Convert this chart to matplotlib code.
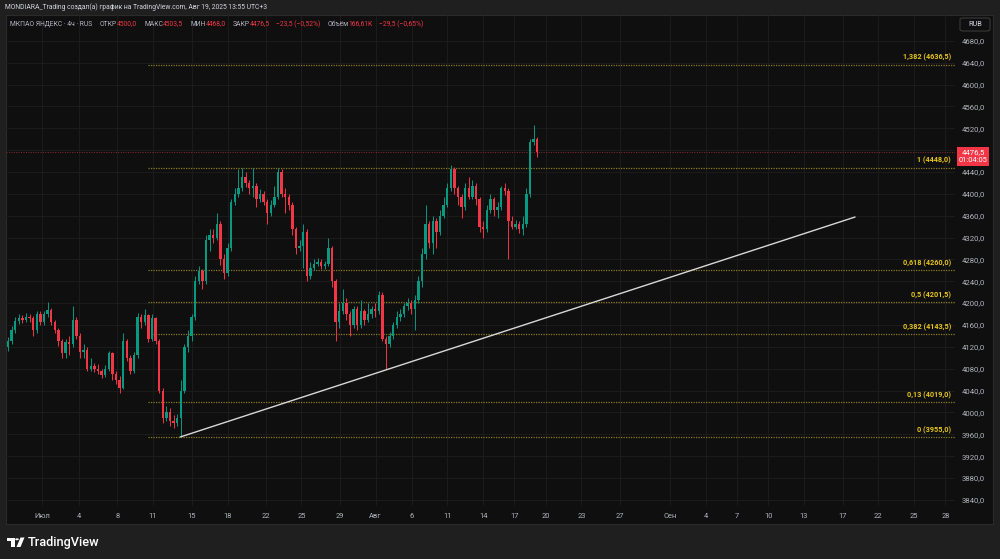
import matplotlib
matplotlib.use("Agg")
import matplotlib.pyplot as plt
from matplotlib.patches import Rectangle, FancyBboxPatch, Polygon, Circle

plt.rcParams['font.family'] = ['Roboto', 'DejaVu Sans']

# ---------------- data ----------------
opens = [4120, 4130, 4150, 4168, 4172, 4170, 4175, 4172, 4150, 4180,
         4165, 4180, 4188, 4165, 4150, 4130, 4108, 4128, 4125, 4170,
         4140, 4110, 4115, 4080, 4085, 4080, 4075, 4068, 4080, 4108,
         4070, 4060, 4045, 4130, 4100, 4075, 4105, 4175, 4165, 4178,
         4135, 4172, 4130, 4040, 3990, 4000, 3985, 3980, 3990, 4040,
         4120, 4140, 4175, 4240, 4258, 4240, 4315, 4325, 4320, 4345,
         4280, 4255, 4300, 4385, 4400, 4410, 4430, 4420, 4410, 4415,
         4390, 4400, 4385, 4365, 4380, 4395, 4440, 4400, 4395, 4380,
         4335, 4300, 4305, 4330, 4250, 4265, 4272, 4275, 4268, 4272,
         4300, 4240, 4165, 4185, 4200, 4180, 4160, 4190, 4160, 4185,
         4170, 4180, 4190, 4185, 4215, 4135, 4125, 4140, 4160, 4175,
         4180, 4195, 4200, 4190, 4205, 4240, 4290, 4345, 4310, 4350,
         4330, 4360, 4380, 4410, 4445, 4410, 4395, 4375, 4410, 4395,
         4415, 4390, 4340, 4335, 4370, 4390, 4370, 4375, 4410, 4405,
         4350, 4340, 4345, 4335, 4345, 4400, 4495, 4500]
closes = [4130, 4150, 4168, 4172, 4170, 4175, 4172, 4150, 4180, 4165,
          4180, 4188, 4165, 4150, 4130, 4108, 4128, 4125, 4170, 4140,
          4110, 4115, 4080, 4085, 4080, 4075, 4068, 4080, 4108, 4070,
          4060, 4045, 4130, 4100, 4075, 4105, 4175, 4165, 4178, 4135,
          4172, 4130, 4040, 3990, 4000, 3985, 3980, 3990, 4040, 4120,
          4140, 4175, 4240, 4258, 4240, 4315, 4325, 4320, 4345, 4280,
          4255, 4300, 4385, 4400, 4410, 4430, 4420, 4410, 4415, 4390,
          4400, 4385, 4365, 4380, 4395, 4440, 4400, 4395, 4380, 4335,
          4300, 4305, 4330, 4250, 4265, 4272, 4275, 4268, 4272, 4300,
          4240, 4165, 4185, 4200, 4180, 4160, 4190, 4160, 4185, 4170,
          4180, 4190, 4185, 4215, 4135, 4125, 4140, 4160, 4175, 4180,
          4195, 4200, 4190, 4205, 4240, 4290, 4345, 4310, 4350, 4330,
          4360, 4380, 4410, 4445, 4410, 4395, 4375, 4410, 4395, 4415,
          4390, 4340, 4335, 4370, 4390, 4370, 4375, 4410, 4405, 4350,
          4340, 4345, 4335, 4345, 4400, 4495, 4500, 4476.5]
highs = [4138, 4158, 4175, 4180, 4178, 4182, 4180, 4176, 4186, 4185,
         4186, 4202, 4192, 4170, 4155, 4135, 4135, 4140, 4195, 4175,
         4145, 4125, 4120, 4100, 4090, 4088, 4080, 4086, 4112, 4110,
         4075, 4066, 4145, 4135, 4105, 4110, 4182, 4180, 4190, 4180,
         4180, 4175, 4135, 4045, 4012, 4008, 3995, 3998, 4060, 4125,
         4150, 4180, 4250, 4268, 4262, 4325, 4335, 4335, 4365, 4350,
         4290, 4310, 4390, 4410, 4445, 4448, 4440, 4425, 4448, 4420,
         4408, 4405, 4390, 4388, 4415, 4448, 4445, 4410, 4400, 4385,
         4340, 4315, 4345, 4335, 4275, 4280, 4282, 4280, 4278, 4320,
         4305, 4245, 4200, 4225, 4210, 4185, 4195, 4195, 4205, 4190,
         4200, 4195, 4200, 4222, 4220, 4140, 4148, 4165, 4185, 4190,
         4200, 4210, 4205, 4215, 4250, 4300, 4380, 4350, 4360, 4355,
         4370, 4395, 4420, 4452, 4450, 4415, 4400, 4420, 4430, 4425,
         4420, 4395, 4350, 4380, 4400, 4395, 4385, 4415, 4420, 4410,
         4360, 4352, 4350, 4360, 4410, 4500, 4526, 4503.5]
lows = [4112, 4125, 4145, 4162, 4163, 4166, 4165, 4140, 4146, 4160,
        4160, 4175, 4160, 4145, 4122, 4100, 4100, 4105, 4120, 4135,
        4100, 4100, 4075, 4075, 4074, 4070, 4063, 4065, 4075, 4060,
        4052, 4035, 4042, 4095, 4070, 4072, 4100, 4155, 4160, 4128,
        4130, 4125, 4035, 3980, 3985, 3975, 3972, 3975, 3955, 4035,
        4110, 4130, 4170, 4235, 4225, 4235, 4295, 4310, 4315, 4270,
        4245, 4250, 4295, 4380, 4395, 4405, 4412, 4400, 4395, 4375,
        4385, 4380, 4345, 4360, 4375, 4390, 4395, 4365, 4370, 4325,
        4290, 4295, 4265, 4240, 4245, 4260, 4268, 4262, 4262, 4268,
        4230, 4130, 4155, 4180, 4170, 4140, 4155, 4150, 4155, 4160,
        4165, 4172, 4175, 4180, 4130, 4080, 4120, 4135, 4155, 4168,
        4175, 4188, 4180, 4150, 4200, 4230, 4280, 4300, 4290, 4300,
        4325, 4355, 4375, 4405, 4400, 4380, 4355, 4370, 4390, 4390,
        4380, 4330, 4320, 4330, 4365, 4360, 4355, 4370, 4398, 4280,
        4335, 4335, 4328, 4325, 4340, 4395, 4490, 4468]

price_levels = [4680, 4640, 4600, 4560, 4520, 4480, 4440, 4400, 4360, 4320,
                4280, 4240, 4200, 4160, 4120, 4080, 4040, 4000, 3960, 3920,
                3880, 3840]
price_labels = ["4680,0", "4640,0", "4600,0", "4560,0", "4520,0", "", "4440,0",
                "4400,0", "4360,0", "4320,0", "4280,0", "4240,0", "4200,0",
                "4160,0", "4120,0", "4080,0", "4040,0", "4000,0", "3960,0",
                "3920,0", "3880,0", "3840,0"]

time_labels = ["Июл", "4", "8", "11", "15", "18", "22", "25", "29", "Авг",
               "6", "11", "14", "17", "20", "23", "27", "Сен", "4", "7",
               "10", "13", "17", "22", "25", "28"]
time_pos = [9.5, 19.8, 30.4, 40.3, 51.0, 61.0, 71.6, 81.5, 92.1, 102.1,
            112.1, 122.0, 132.0, 140.6, 149.4, 159.3, 170.0, 183.9, 193.8,
            202.5, 211.2, 221.0, 231.9, 241.7, 251.7, 260.4]

fib_ratios = ["1,382", "1", "0,618", "0,5", "0,382", "0,13", "0"]
fib_prices = [4636.5, 4448.0, 4260.0, 4201.5, 4143.5, 4019.0, 3955.0]
fib_price_txt = ["4636,5", "4448,0", "4260,0", "4201,5", "4143,5", "4019,0", "3955,0"]
fib_start = 39

trend_idx = [47.8, 235.3]
trend_prices = [3955.0, 4357.6]

last_price = 4476.5
last_price_txt = "4476,5"
countdown = "01:04:05"

legend_texts = ["МКПАО ЯНДЕКС · 4ч · RUS", "ОТКР", "4500,0", "МАКС", "4503,5",
                "МИН", "4468,0", "ЗАКР", "4476,5", "−23,5 (−0,52%)",
                "Объём", "166,61K", "−29,5 (−0,65%)"]

# ---------------- style ----------------
UP = '#089981'
DOWN = '#f23645'
OUTER = '#1f1f1f'
PANE = '#0f0f0f'
GRID = '#1b1b1b'
TXT = '#b2b5be'
FIB_LINE = '#8a7a22'
FIB_TXT = '#e8c61e'

W, H = 1000, 559
fig = plt.figure(figsize=(W / 100, H / 100), dpi=100)
fig.patch.set_facecolor(OUTER)


def fx(px):
    return px / W


def fy(py):
    return 1 - py / H


# dark pane
fig.add_artist(Rectangle((fx(6), fy(524)), fx(993) - fx(6), fy(15) - fy(524),
                         transform=fig.transFigure, facecolor=PANE,
                         edgecolor='#2b2b2b', lw=0.8, zorder=0))

ax = fig.add_axes([fx(6), fy(524), fx(955) - fx(6), fy(15) - fy(524)])
ax.set_facecolor('none')
for s in ax.spines.values():
    s.set_visible(False)

ymin, ymax = 3795.9, 4727.2
ax.set_ylim(ymin, ymax)
ax.set_xlim(-0.56, 263.06)

# grid
for p in price_levels:
    ax.axhline(p, color=GRID, lw=0.8, zorder=1)
for xp in time_pos:
    ax.vlines(xp, 3830, ymax, color=GRID, lw=0.8, zorder=1)

# y axis on right
ax.yaxis.tick_right()
ax.set_yticks(price_levels)
ax.set_yticklabels(price_labels)
ax.tick_params(axis='y', length=0, pad=5, labelsize=5.6, labelcolor=TXT)
ax.set_xticks([])

# x labels (inside time strip)
for xp, lab in zip(time_pos, time_labels):
    ax.text(xp, 3810, lab, ha='center', va='center', fontsize=5.4, color=TXT)

# fib lines
for r, pr, pt in zip(fib_ratios, fib_prices, fib_price_txt):
    ax.plot([fib_start, 263.06], [pr, pr], color=FIB_LINE, lw=0.9,
            ls=(0, (1, 1)), zorder=2)
    ax.annotate(f"{r} ({pt})", xy=(1, pr), xycoords=('axes fraction', 'data'),
                xytext=(-3, 2), textcoords='offset points', ha='right',
                va='bottom', fontsize=5.2, color=FIB_TXT, fontweight='bold',
                zorder=5)

# current price line
ax.axhline(last_price, color='#8c2a34', lw=0.7, ls=(0, (1, 1.5)), zorder=2)

# candles
for i, (o, h, l, c) in enumerate(zip(opens, highs, lows, closes)):
    col = UP if c >= o else DOWN
    ax.vlines(i, l, h, color=col, lw=0.7, zorder=3)
    body = c - o
    if abs(body) < 1.5:
        body = 1.5 if body >= 0 else -1.5
    ax.bar(i, body, bottom=o, width=0.68, color=col, linewidth=0, zorder=4)

# trendline
ax.plot(trend_idx, trend_prices, color='#d8d8d8', lw=1.0, zorder=5,
        solid_capstyle='round')

# price tag
fig.add_artist(Rectangle((fx(957), fy(166)), fx(989) - fx(957), fy(147) - fy(166),
                         transform=fig.transFigure, facecolor=DOWN,
                         edgecolor='none', zorder=6))
fig.text(fx(973), fy(152.5), last_price_txt, ha='center', va='center',
         fontsize=5.6, color='white', zorder=7)
fig.text(fx(973), fy(160.5), countdown, ha='center', va='center',
         fontsize=5.4, color='white', zorder=7)

# RUB box
fig.add_artist(FancyBboxPatch((fx(960), fy(31)), fx(990) - fx(960), fy(18) - fy(31),
                              boxstyle='round,pad=0,rounding_size=0.003',
                              transform=fig.transFigure, facecolor=PANE,
                              edgecolor='#3a3a3a', lw=0.8, zorder=6))
fig.text(fx(975), fy(24.5), "RUB", ha='center', va='center', fontsize=5.3,
         color='#d1d4dc', zorder=7)

# header
fig.text(fx(5), fy(7.5), "MONDIARA_Trading создал(а) график на TradingView.com, Авг 19, 2025 13:55 UTC+3",
         ha='left', va='center', fontsize=4.9, color='#d1d4dc')

# legend line, laid out piece by piece
legend_colors = [TXT, TXT, DOWN, TXT, DOWN, TXT, DOWN, TXT, DOWN, DOWN, TXT, DOWN, DOWN]
legend_gaps = [0, 7, 0, 7, 0, 7, 0, 7, 0, 6, 7, 0, 6]
fig.canvas.draw()
renderer = fig.canvas.get_renderer()
xcur = 10.5
for txt, col, gap in zip(legend_texts, legend_colors, legend_gaps):
    xcur += gap
    t = fig.text(fx(xcur), fy(24), txt, ha='left', va='center', fontsize=4.9,
                 color=col)
    bb = t.get_window_extent(renderer)
    xcur = bb.x1

# TradingView logo
fig.add_artist(Polygon([(fx(7), fy(537.5)), (fx(14.5), fy(537.5)), (fx(14.5), fy(547)),
                        (fx(11), fy(547)), (fx(11), fy(541)), (fx(7), fy(541))],
                       closed=True, transform=fig.transFigure, facecolor='white',
                       edgecolor='none'))
fig.add_artist(Circle((fx(17), fy(539.3)), 1.8 / W, transform=fig.transFigure,
                      facecolor='white', edgecolor='none'))
fig.add_artist(Polygon([(fx(20.5), fy(537.5)), (fx(24.5), fy(537.5)), (fx(20.5), fy(547)),
                        (fx(16.5), fy(547))],
                       closed=True, transform=fig.transFigure, facecolor='white',
                       edgecolor='none'))
fig.text(fx(28), fy(542.3), "TradingView", ha='left', va='center', fontsize=9.2,
         color='white', fontweight='medium')

fig.savefig("out.png", dpi=100, facecolor=fig.get_facecolor())
